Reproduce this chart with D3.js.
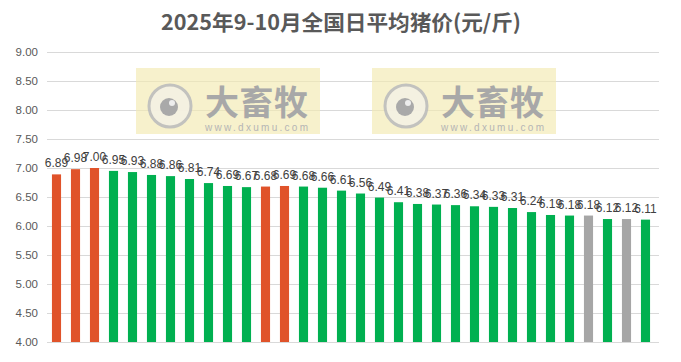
<!DOCTYPE html>
<html><head><meta charset="utf-8">
<script src="https://cdn.jsdelivr.net/npm/d3@7"></script>
<style>body{margin:0;background:#fff;} svg{display:block;}</style>
</head><body>
<script>
const values = [6.89,6.98,7.00,6.95,6.93,6.88,6.86,6.81,6.74,6.69,6.67,6.68,6.69,6.68,6.66,6.61,6.56,6.49,6.41,6.38,6.37,6.36,6.34,6.33,6.31,6.24,6.19,6.18,6.18,6.12,6.12,6.11];
const colorKeys = ["o","o","o","g","g","g","g","g","g","g","g","o","o","g","g","g","g","g","g","g","g","g","g","g","g","g","g","g","x","g","x","g"];
const yTicks = [4.0,4.5,5.0,5.5,6.0,6.5,7.0,7.5,8.0,8.5,9.0];
const title = "2025年9-10月全国日平均猪价(元/斤)";
const palette = {o:"#E0532A", g:"#00B050", x:"#A6A6A6"};

const W=681,H=362;
const svg=d3.select("body").append("svg").attr("width",W).attr("height",H);
svg.append("rect").attr("width",W).attr("height",H).attr("fill","#fff");

const x=d3.scaleBand().domain(values.map((d,i)=>i)).range([47,655]).paddingInner(0.52).paddingOuter(0.26);
const y=d3.scaleLinear().domain([4,9]).range([342,52]);

// gridlines
svg.append("g").selectAll("line").data(yTicks).join("line")
 .attr("x1",47).attr("x2",659).attr("y1",d=>Math.round(y(d))+0.5).attr("y2",d=>Math.round(y(d))+0.5)
 .attr("stroke","#D9D9D9").attr("stroke-width",1);

// watermarks
function watermark(bx){
  const g=svg.append("g");
  g.append("rect").attr("x",bx).attr("y",68).attr("width",184).attr("height",66).attr("fill","#F2EAB0").attr("opacity",0.65);
  const cx=bx+34, cy=106;
  g.append("circle").attr("cx",cx).attr("cy",cy).attr("r",21).attr("fill","#F4F1E4").attr("stroke","#BDBDBD").attr("stroke-width",3).attr("opacity",0.9);
  g.append("circle").attr("cx",cx-1).attr("cy",cy+1).attr("r",9).attr("fill","#A9A9A9");
  g.append("circle").attr("cx",cx+2).attr("cy",cy-3).attr("r",3).attr("fill","#EDEDED");
  g.append("text").attr("x",bx+69).attr("y",115).attr("font-family","Noto Sans CJK SC").attr("font-weight","bold")
   .attr("font-size",34).attr("fill","#A8A8A8").attr("textLength",103).text("大畜牧");
  g.append("text").attr("x",bx+69).attr("y",131).attr("font-family","Liberation Sans, Arial").attr("font-size",10)
   .attr("fill","#B5B5B5").attr("textLength",103).text("www.dxumu.com");
}
watermark(136);
watermark(372);

// axis baseline
svg.append("line").attr("x1",47).attr("x2",659).attr("y1",342.5).attr("y2",342.5).attr("stroke","#D9D9D9").attr("stroke-width",1);

// y axis labels
const yAxis=d3.axisLeft(y).tickValues(yTicks).tickFormat(d3.format(".2f")).tickSize(0).tickPadding(0);
const ya=svg.append("g").attr("transform","translate(38,0)").call(yAxis);
ya.select(".domain").remove();
ya.selectAll("text").attr("font-family","Liberation Sans, Arial").attr("font-size",11.5).attr("fill","#595959");

// bars
svg.append("g").selectAll("rect").data(values).join("rect")
 .attr("x",(d,i)=>x(i)).attr("width",x.bandwidth())
 .attr("y",d=>y(d)).attr("height",d=>y(4)-y(d))
 .attr("fill",(d,i)=>palette[colorKeys[i]]);

// labels
svg.append("g").selectAll("text").data(values).join("text")
 .attr("x",(d,i)=>x(i)+x.bandwidth()/2).attr("y",d=>y(d)-7)
 .attr("text-anchor","middle").attr("font-family","Liberation Sans, Arial").attr("font-size",12)
 .attr("fill","#404040").text(d=>d3.format(".2f")(d));

// title
svg.append("text").attr("x",341).attr("y",30).attr("text-anchor","middle")
 .attr("font-family","Noto Sans CJK SC").attr("font-weight","bold").attr("font-size",21)
 .attr("textLength",360).attr("lengthAdjust","spacingAndGlyphs")
 .attr("fill","#595959").text(title);
</script>
</body></html>
